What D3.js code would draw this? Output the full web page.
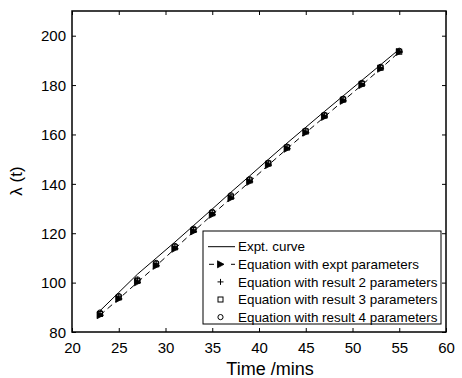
<!DOCTYPE html>
<html>
<head>
<meta charset="utf-8">
<script src="https://cdn.jsdelivr.net/npm/d3@7"></script>
<style>
  html, body { margin: 0; padding: 0; background: #fff; }
  svg { display: block; font-family: "Liberation Sans", Arial, Helvetica, sans-serif; }
</style>
</head>
<body>
<svg id="chart" width="462" height="378"></svg>
<script>
// Sample times (minutes)
const times = [23, 25, 27, 29, 31, 33, 35, 37, 39, 41, 43, 45, 47, 49, 51, 53, 55];

// Measured curve
const exptCurve = [88.6, 96.0, 103.4, 109.9, 116.4, 123.1, 129.8, 136.6, 143.2, 149.9, 156.5, 162.9, 169.3, 175.6, 181.9, 188.2, 194.5];
// Model with experimental parameters (dashed line, triangle markers)
const eqExpt = [86.8, 93.4, 100.1, 106.8, 113.7, 120.7, 127.5, 134.2, 140.8, 147.6, 154.2, 160.7, 167.1, 173.6, 180.0, 186.6, 193.4];
// Model with fitted parameter sets
const eqResult2 = [87.6, 94.3, 101.0, 107.7, 114.6, 121.6, 128.4, 135.1, 141.6, 148.4, 154.9, 161.4, 167.8, 174.3, 180.7, 187.2, 193.7];
const eqResult3 = [87.3, 94.0, 100.7, 107.4, 114.3, 121.3, 128.1, 134.8, 141.4, 148.2, 154.7, 161.2, 167.6, 174.1, 180.5, 187.0, 193.5];
const eqResult4 = [87.9, 94.6, 101.3, 108.0, 114.9, 121.9, 128.7, 135.4, 141.9, 148.6, 155.1, 161.6, 168.0, 174.5, 180.9, 187.4, 193.9];

const xTicks = [20, 25, 30, 35, 40, 45, 50, 55, 60];
const yTicks = [80, 100, 120, 140, 160, 180, 200];
const legendLabels = [
  "Expt. curve",
  "Equation with expt parameters",
  "Equation with result 2 parameters",
  "Equation with result 3 parameters",
  "Equation with result 4 parameters"
];

const svg = d3.select("#chart");
const L = 72, R = 446, T = 11, B = 332;

const x = d3.scaleLinear().domain([20, 60]).range([L, R]);
const y = d3.scaleLinear().domain([80, 210]).range([B, T]);

// Axes with inward ticks on all four sides
const tickLen = 4;
const gx = svg.append("g").attr("transform", `translate(0,${B})`)
  .call(d3.axisBottom(x).tickValues(xTicks).tickSizeInner(-tickLen).tickSizeOuter(0).tickPadding(10));
const gxTop = svg.append("g").attr("transform", `translate(0,${T})`)
  .call(d3.axisTop(x).tickValues(xTicks).tickSizeInner(-tickLen).tickSizeOuter(0).tickFormat(""));
const gy = svg.append("g").attr("transform", `translate(${L},0)`)
  .call(d3.axisLeft(y).tickValues(yTicks).tickSizeInner(-tickLen).tickSizeOuter(0).tickPadding(6));
const gyRight = svg.append("g").attr("transform", `translate(${R},0)`)
  .call(d3.axisRight(y).tickValues(yTicks).tickSizeInner(-tickLen).tickSizeOuter(0).tickFormat(""));

[gx, gxTop, gy, gyRight].forEach(g => {
  g.select(".domain").remove();
  g.selectAll(".tick line").attr("stroke", "#000").attr("stroke-width", 1);
  g.selectAll(".tick text").attr("fill", "#000").attr("font-size", 15)
    .attr("font-family", "'Liberation Sans', Arial, sans-serif");
});
gy.selectAll(".tick text").attr("dy", "0.35em");

// Plot box
svg.append("rect").attr("x", L).attr("y", T).attr("width", R - L).attr("height", B - T)
  .attr("fill", "none").attr("stroke", "#000").attr("stroke-width", 1.5);

// Axis titles
svg.append("text").attr("x", 270).attr("y", 375).attr("text-anchor", "middle")
  .attr("font-size", 18).attr("fill", "#000").text("Time /mins");
svg.append("text").attr("transform", "translate(22,181) rotate(-90)").attr("text-anchor", "middle")
  .attr("font-size", 17).attr("fill", "#000").text("λ (t)");

const line = d3.line().x((d, i) => x(times[i])).y(d => y(d));

// Measured curve
svg.append("path").datum(exptCurve).attr("d", line)
  .attr("fill", "none").attr("stroke", "#000").attr("stroke-width", 1);
// Model with experimental parameters
svg.append("path").datum(eqExpt).attr("d", line)
  .attr("fill", "none").attr("stroke", "#000").attr("stroke-width", 1).attr("stroke-dasharray", "6,4");

// Marker shapes
function triangle(g, cx, cy) {
  g.append("path").attr("d", `M${cx - 3},${cy - 3.5}L${cx + 3.5},${cy}L${cx - 3},${cy + 3.5}Z`)
    .attr("fill", "#000").attr("stroke", "#000").attr("stroke-width", 0.8);
}
function plus(g, cx, cy) {
  g.append("path").attr("d", `M${cx - 3},${cy}H${cx + 3}M${cx},${cy - 3}V${cy + 3}`)
    .attr("fill", "none").attr("stroke", "#000").attr("stroke-width", 1);
}
function square(g, cx, cy) {
  g.append("rect").attr("x", cx - 2.5).attr("y", cy - 2.5).attr("width", 5).attr("height", 5)
    .attr("fill", "none").attr("stroke", "#000").attr("stroke-width", 1);
}
function circle(g, cx, cy) {
  g.append("circle").attr("cx", cx).attr("cy", cy).attr("r", 2.6)
    .attr("fill", "none").attr("stroke", "#000").attr("stroke-width", 1);
}

const mk = svg.append("g");
eqExpt.forEach((v, i) => triangle(mk, x(times[i]), y(v)));
eqResult2.forEach((v, i) => plus(mk, x(times[i]), y(v)));
eqResult3.forEach((v, i) => square(mk, x(times[i]), y(v)));
eqResult4.forEach((v, i) => circle(mk, x(times[i]), y(v)));

// Legend
const lg = svg.append("g");
lg.append("rect").attr("x", 203).attr("y", 231).attr("width", 238).attr("height", 93)
  .attr("fill", "#fff").attr("stroke", "#000").attr("stroke-width", 1);
const rowY = i => 246.7 + i * 17.6;
legendLabels.forEach((t, i) => {
  lg.append("text").attr("x", 238).attr("y", rowY(i)).attr("dy", "0.35em")
    .attr("font-size", 13.4).attr("fill", "#000").text(t);
});
lg.append("line").attr("x1", 208).attr("x2", 235).attr("y1", rowY(0)).attr("y2", rowY(0))
  .attr("stroke", "#000").attr("stroke-width", 1);
lg.append("line").attr("x1", 208).attr("x2", 235).attr("y1", rowY(1)).attr("y2", rowY(1))
  .attr("stroke", "#000").attr("stroke-width", 1).attr("stroke-dasharray", "5,6").attr("stroke-dashoffset", -1);
lg.append("rect").attr("x", 215).attr("y", rowY(1) - 4).attr("width", 11).attr("height", 8).attr("fill", "#fff");
triangle(lg, 220.5, rowY(1));
plus(lg, 220.5, rowY(2));
square(lg, 220.5, rowY(3));
circle(lg, 220.5, rowY(4));
</script>
</body>
</html>
